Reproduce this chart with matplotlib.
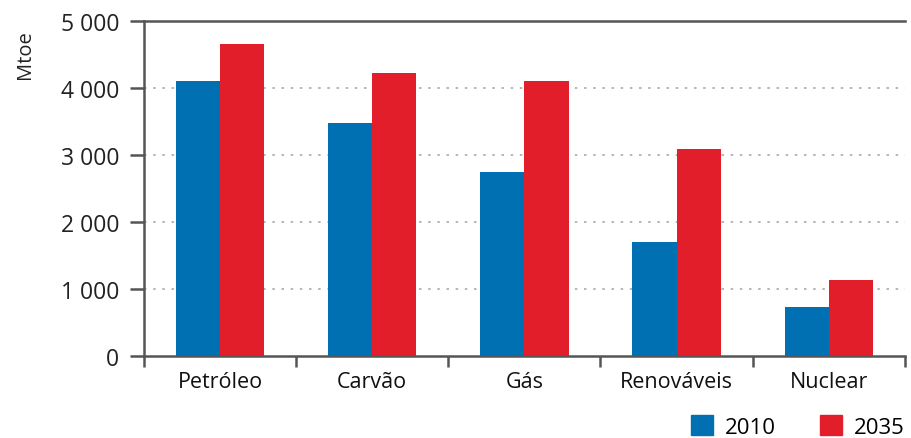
import matplotlib
matplotlib.use("Agg")
import matplotlib.pyplot as plt
import numpy as np
from matplotlib.patches import Patch

categories = ["Petróleo", "Carvão", "Gás", "Renováveis", "Nuclear"]
values_2010 = [4100, 3475, 2740, 1700, 730]
values_2035 = [4650, 4230, 4100, 3090, 1135]
series_labels = ["2010", "2035"]
yticks = [0, 1000, 2000, 3000, 4000, 5000]
ytick_labels = ["0", "1 000", "2 000", "3 000", "4 000", "5 000"]

BLUE = "#0070b2"
RED = "#e31e2b"
AXIS = "#555555"

plt.rcParams["font.family"] = ["Open Sans", "DejaVu Sans"]

fig = plt.figure(figsize=(9.12, 4.39), dpi=100)
ax = fig.add_axes([0.158, 0.187, 0.834, 0.763])

x = np.arange(len(categories))
w = 0.29
ax.bar(x - w / 2, values_2010, width=w, color=BLUE, zorder=3)
ax.bar(x + w / 2, values_2035, width=w, color=RED, zorder=3)

ax.set_xlim(-0.5, len(categories) - 0.5)
ax.set_ylim(0, 5000)

# dotted gridlines for inner levels, solid rule at the top
for v in yticks[1:-1]:
    ax.axhline(v, color="#aaaaaa", linestyle=(0, (1.5, 4)), linewidth=1.2, zorder=1)
ax.axhline(5000, color=AXIS, linewidth=1.8, zorder=4, clip_on=False)

for side in ["top", "right"]:
    ax.spines[side].set_visible(False)
for side in ["left", "bottom"]:
    ax.spines[side].set_color(AXIS)
    ax.spines[side].set_linewidth(1.8)

ax.set_yticks(yticks)
ax.set_yticklabels(ytick_labels, fontsize=16.5, color="#222222")
ax.tick_params(axis="y", length=10, width=1.8, color=AXIS, pad=8)

ax.set_xticks(x)
ax.set_xticklabels(categories, fontsize=15.5, color="#111111")
ax.tick_params(axis="x", which="major", length=0, pad=11)
ax.set_xticks(np.arange(len(categories) + 1) - 0.5, minor=True)
ax.tick_params(axis="x", which="minor", length=8, width=1.8, color=AXIS)

fig.text(0.027, 0.875, "Mtoe", rotation=90, fontsize=14.5, color="#222222",
         ha="center", va="center")

handles = [Patch(color=BLUE), Patch(color=RED)]
fig.legend(handles, series_labels, loc="lower right", ncol=2, frameon=False,
           fontsize=16, handlelength=1.0, handleheight=1.0, handletextpad=0.5,
           columnspacing=2.0, bbox_to_anchor=(1.006, -0.03), borderaxespad=0.2)

fig.savefig("out.png", dpi=100)
